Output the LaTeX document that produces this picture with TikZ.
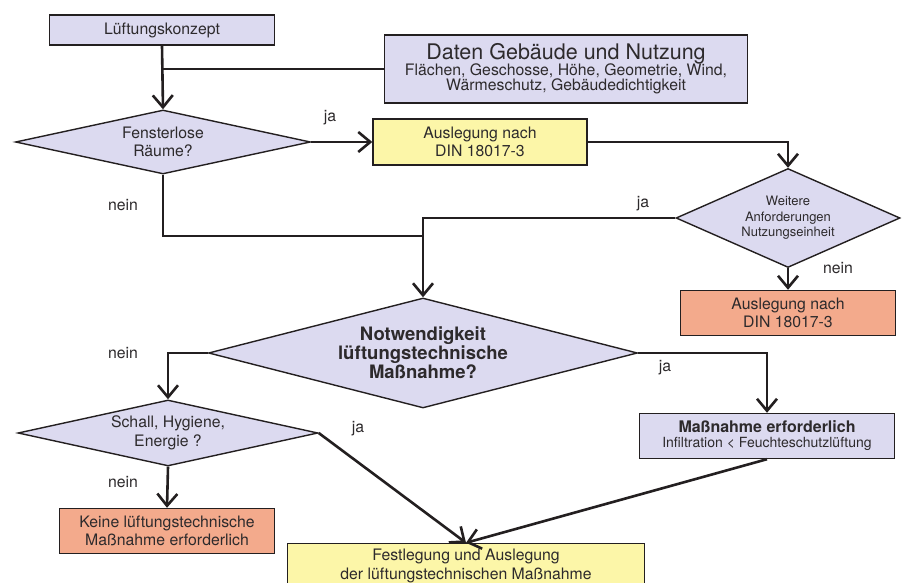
\documentclass[tikz,border=0pt]{standalone}
\usepackage{fontspec}
\setmainfont{TeX Gyre Heros}
\usepackage{tikz}
\usepackage{xcolor}
\usetikzlibrary{shapes.geometric,arrows.meta}
\definecolor{lavender}{RGB}{220,218,240}
\definecolor{paleyellow}{RGB}{252,246,168}
\definecolor{salmon}{RGB}{243,170,140}
\definecolor{darkline}{RGB}{35,31,32}
\definecolor{darktext}{RGB}{45,42,44}

\begin{document}
\begin{tikzpicture}[line join=miter,
                lavenderbox/.style={shape=rectangle, fill=lavender, draw=darkline, line width=1.4pt, inner sep=0pt, align=center, text=darktext},
                yellowbox/.style={lavenderbox, fill=paleyellow},
                salmonbox/.style={lavenderbox, fill=salmon},
                lavenderdiamond/.style={shape=diamond, fill=lavender, draw=darkline, line width=1.4pt, inner sep=0pt, align=center, text=darktext},
                flowline/.style={draw=darkline, line width=2.6pt},
                flowarrow/.style={flowline, -{Straight Barb[length=12pt, width=20pt]}},
                answer/.style={text=darktext, font=\fontsize{15.8}{18}\selectfont},
                normaltext/.style={font=\fontsize{15.8}{18.5}\selectfont}]
            \useasboundingbox (0pt, 0pt) rectangle (907pt, 583pt);
            % Boxes
            \node[lavenderbox, normaltext, minimum width=225pt, minimum height=30pt] (konzept) at (162pt, 553pt) {Lüftungskonzept};
            \node[lavenderbox, minimum width=363pt, minimum height=68pt] (daten) at (566pt, 514pt)
                {{\fontsize{21.5}{24}\selectfont Daten Gebäude und Nutzung}\\[-2pt]
                 {\fontsize{15.8}{18}\selectfont Flächen, Geschosse, Höhe, Geometrie, Wind,}\\
                 {\fontsize{15.8}{18}\selectfont Wärmeschutz, Gebäudedichtigkeit}};
            \node[yellowbox, normaltext, minimum width=214pt, minimum height=46pt] (ausl1) at (480pt, 441pt) {Auslegung nach\\DIN 18017-3};
            \node[salmonbox, normaltext, minimum width=215pt, minimum height=45pt] (ausl2) at (788pt, 270pt) {Auslegung nach\\DIN 18017-3};
            \node[lavenderbox, minimum width=255pt, minimum height=45pt] (massn) at (767pt, 147pt)
                {{\bfseries\fontsize{16}{18}\selectfont Maßnahme erforderlich}\\[3pt]
                 {\fontsize{14}{16}\selectfont Infiltration < Feuchteschutzlüftung}};
            \node[salmonbox, normaltext, minimum width=215pt, minimum height=45pt] (keine) at (167pt, 52pt) {Keine lüftungstechnische\\Maßnahme erforderlich};
            \node[yellowbox, normaltext, minimum width=357pt, minimum height=45pt] (festl) at (466pt, 17pt) {Festlegung und Auslegung\\der lüftungstechnischen Maßnahme};
            % Decisions
            \node[lavenderdiamond, normaltext, aspect=4.6, minimum width=295pt, minimum height=64pt] (fenster) at (163pt, 441pt) {Fensterlose\\Räume?};
            \node[lavenderdiamond, aspect=2.26, minimum width=224pt, minimum height=99pt, font=\fontsize{13}{15.5}\selectfont] (weitere) at (788pt, 365pt) {Weitere\\Anforderungen\\Nutzungseinheit};
            \node[lavenderdiamond, aspect=3.9, minimum width=429pt, minimum height=110pt, font=\bfseries\fontsize{18.5}{19}\selectfont] (notw) at (423pt, 230pt) {Notwendigkeit\\lüftungstechnische\\Maßnahme?};
            \node[lavenderdiamond, normaltext, aspect=4.5, minimum width=300pt, minimum height=66pt] (schall) at (168pt, 150pt) {Schall, Hygiene,\\Energie ?};
            \coordinate (merge) at (423pt, 347pt);
            % Connectors
            \draw[flowarrow] (konzept.south) -- (fenster.north);
            \draw[flowline] (daten.west) -- (konzept.south |- daten.west);
            \draw[flowarrow] (fenster.east) -- (ausl1.west);
            \draw[flowarrow] (ausl1.east) -| (weitere.north);
            \draw[flowline] (fenster.south) |- (merge);
            \draw[flowarrow] (weitere.west) -| (notw.north);
            \draw[flowarrow] (weitere.south) -- (ausl2.north);
            \draw[flowarrow] (notw.west) -| (schall.north);
            \draw[flowarrow] (notw.east) -| (massn.north);
            \draw[flowarrow] (schall.south) -- (keine.north);
            \draw[flowarrow] (schall.east) -- (festl.north);
            \draw[flowarrow] (massn.south) -- (festl.north);
            % Answers
            \node[answer] (ja1) at (330pt, 465pt) {ja};
            \node[answer] (nein1) at (123pt, 378pt) {nein};
            \node[answer] (ja2) at (643pt, 379pt) {ja};
            \node[answer] (nein2) at (838pt, 315pt) {nein};
            \node[answer] (nein3) at (123pt, 230pt) {nein};
            \node[answer] (ja3) at (665pt, 215pt) {ja};
            \node[answer] (ja4) at (358pt, 154pt) {ja};
            \node[answer] (nein4) at (123pt, 101pt) {nein};
\end{tikzpicture}
\end{document}
